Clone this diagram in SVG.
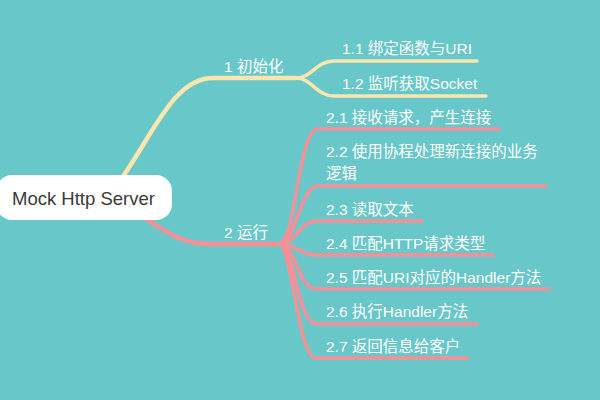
<svg xmlns="http://www.w3.org/2000/svg" width="600" height="400" viewBox="0 0 600 400">
<style>
.lbl{font-family:"Liberation Sans","Noto Sans CJK SC",sans-serif;font-size:15.5px;fill:#ffffff}
.root{font-family:"Liberation Sans","Noto Sans CJK SC",sans-serif;font-size:18.5px;fill:#3a3a3a}
.y{fill:none;stroke:#fbe6ae;stroke-linecap:round}
.p{fill:none;stroke:#f88f97;stroke-linecap:round}
</style>
<rect width="600" height="400" fill="#68c7c9"/>
<g id="connectors">
<path class="y" stroke-width="4.5" d="M122,178 C155,130 175,78 213,78 L296,78"/>
<path class="y" stroke-width="3.5" d="M296,78 C312,78 316,61 334,61 L477,61"/>
<path class="y" stroke-width="3.5" d="M296,78 C312,78 316,96 334,96 L486,96"/>
<path class="p" stroke-width="4.5" d="M145,218 C170,235 185,244 210,244 L279,244"/>
<path class="p" stroke-width="3.5" d="M279,244 C296,244 298,129 318,129 L499,129"/>
<path class="p" stroke-width="3.5" d="M279,244 C296,244 300,186 318,186 L546,186"/>
<path class="p" stroke-width="3.5" d="M279,244 C296,244 300,221 316,221 L422,221"/>
<path class="p" stroke-width="3.5" d="M279,244 C296,244 300,255 316,255 L493,255"/>
<path class="p" stroke-width="3.5" d="M279,244 C296,244 298,289 316,289 L549,289"/>
<path class="p" stroke-width="3.5" d="M279,244 C294,244 298,324 316,324 L477,324"/>
<path class="p" stroke-width="3.5" d="M279,244 C292,244 298,358 316,358 L468,358"/>
</g>
<g id="root">
<rect x="-4" y="175" width="176" height="45" rx="16" fill="#ffffff"/>
<text class="root" x="12" y="205">Mock Http Server</text>
</g>
<g id="n1"><text class="lbl" x="224" y="72">1 初始化</text></g>
<g id="n11"><text class="lbl" x="342" y="54">1.1 绑定函数与URI</text></g>
<g id="n12"><text class="lbl" x="342" y="89">1.2 监听获取Socket</text></g>
<g id="n2"><text class="lbl" x="224" y="238">2 运行</text></g>
<g id="n21"><text class="lbl" x="326" y="123">2.1 接收请求，产生连接</text></g>
<g id="n22"><text class="lbl" x="326" y="157">2.2 使用协程处理新连接的业务<tspan x="326" y="179">逻辑</tspan></text></g>
<g id="n23"><text class="lbl" x="326" y="215">2.3 读取文本</text></g>
<g id="n24"><text class="lbl" x="326" y="249">2.4 匹配HTTP请求类型</text></g>
<g id="n25"><text class="lbl" x="326" y="283">2.5 匹配URI对应的Handler方法</text></g>
<g id="n26"><text class="lbl" x="326" y="317">2.6 执行Handler方法</text></g>
<g id="n27"><text class="lbl" x="326" y="352">2.7 返回信息给客户</text></g>
</svg>
